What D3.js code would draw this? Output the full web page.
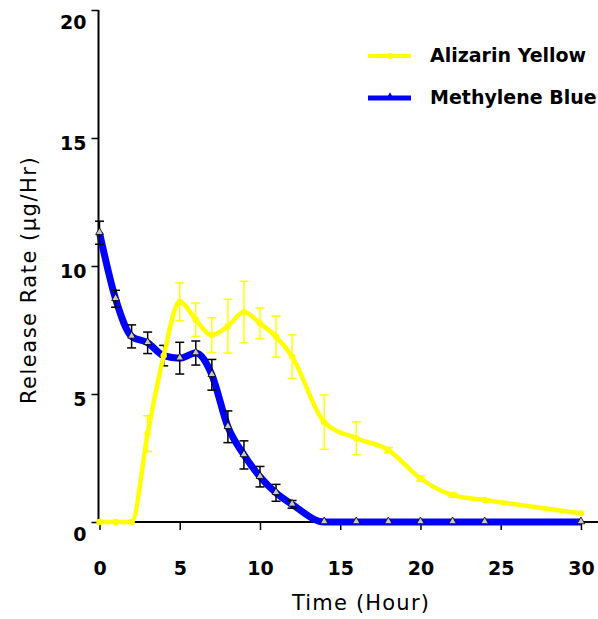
<!DOCTYPE html>
<html>
<head>
<meta charset="utf-8">
<script src="https://cdn.jsdelivr.net/npm/d3@7"></script>
<style>
  html, body { margin: 0; padding: 0; background: #fff; }
  svg { display: block; }
</style>
</head>
<body>
<svg id="chart" width="598" height="619"></svg>
<script>
// ---- data ----
const times = [0, 1, 2, 3, 4, 5, 6, 7, 8, 9, 10, 11, 12, 14, 16, 18, 20, 22, 24, 30];
const blueValues = [11.3, 8.72, 7.25, 7.0, 6.5, 6.4, 6.6, 5.75, 3.72, 2.62, 1.77, 1.14, 0.69, 0, 0, 0, 0, 0, 0, 0];
const blueErrors = [0.45, 0.33, 0.45, 0.42, 0.4, 0.62, 0.47, 0.6, 0.62, 0.55, 0.4, 0.33, 0.15, 0, 0, 0, 0, 0, 0, 0];
const yellowValues = [0, 0, 0, 3.45, 6.5, 8.6, 7.9, 7.3, 7.65, 8.2, 7.76, 7.24, 6.46, 3.9, 3.27, 2.81, 1.7, 1.05, 0.86, 0.34];
const yellowErrors = [0, 0, 0, 0.7, 0, 0.74, 0.65, 0.68, 1.05, 1.2, 0.6, 0.8, 0.85, 1.06, 0.64, 0.1, 0.1, 0.08, 0.05, 0];
const xTicks = [0, 5, 10, 15, 20, 25, 30];
const yTicks = [0, 5, 10, 15, 20];
const seriesNames = ["Alizarin Yellow", "Methylene Blue"];
const xTitle = "Time (Hour)";
const yTitle = "Release Rate (\u03bcg/Hr)";

const blue = times.map((t, i) => ({ t, v: blueValues[i], e: blueErrors[i] }));
const yellow = times.map((t, i) => ({ t, v: yellowValues[i], e: yellowErrors[i] }));

const svg = d3.select("#chart");
const x = d3.scaleLinear().domain([0, 31]).range([99.5, 597]);
const y = d3.scaleLinear().domain([0, 20]).range([522, 10]);

const FONT = "'DejaVu Sans', Verdana, sans-serif";

// ---- axes ----
const gx = svg.append("g").attr("transform", "translate(0,522)")
  .call(d3.axisBottom(x).tickValues(xTicks).tickSize(8).tickFormat(d3.format("d")));
gx.select(".domain").remove();
gx.selectAll(".tick line").attr("stroke", "#000").attr("stroke-width", 1.5);
gx.selectAll(".tick text").attr("y", 46).attr("dy", "0.35em")
  .attr("font-family", FONT).attr("font-size", 19).attr("font-weight", "bold").attr("fill", "#000");

const gy = svg.append("g").attr("transform", "translate(98.5,0)")
  .call(d3.axisLeft(y).tickValues(yTicks).tickSize(7).tickFormat(d3.format("d")));
gy.select(".domain").remove();
gy.selectAll(".tick line").attr("stroke", "#000").attr("stroke-width", 1.5);
gy.selectAll(".tick text").attr("x", -12)
  .attr("dy", d => (d === 0 || d === 20) ? 13 : 6)
  .attr("dominant-baseline", "middle")
  .attr("font-family", FONT).attr("font-size", 19).attr("font-weight", "bold").attr("fill", "#000");

svg.append("line").attr("x1", 98.5).attr("x2", 98.5).attr("y1", 10).attr("y2", 523)
  .attr("stroke", "#000").attr("stroke-width", 2);
svg.append("line").attr("x1", 97.5).attr("x2", 598).attr("y1", 522).attr("y2", 522)
  .attr("stroke", "#000").attr("stroke-width", 2);

// axis titles
svg.append("text").attr("x", 361).attr("y", 604).attr("text-anchor", "middle")
  .attr("dominant-baseline", "middle")
  .attr("font-family", FONT).attr("font-size", 21).attr("letter-spacing", 1.2)
  .attr("fill", "#000").text(xTitle);
svg.append("text").attr("transform", "translate(30,280) rotate(-90)")
  .attr("text-anchor", "middle").attr("dominant-baseline", "middle")
  .attr("font-family", FONT).attr("font-size", 21).attr("letter-spacing", 1.5)
  .attr("fill", "#000").text(yTitle);

// ---- series ----
const line = d3.line().x(d => x(d.t)).y(d => y(d.v)).curve(d3.curveMonotoneX);
const CAP = 4.5;

function errorBars(data, color, width) {
  const g = svg.append("g").attr("stroke", color).attr("stroke-width", width).attr("fill", "none");
  data.filter(d => d.e > 0).forEach(d => {
    const cx = x(d.t), y0 = y(d.v - d.e), y1 = y(d.v + d.e);
    g.append("line").attr("x1", cx).attr("x2", cx).attr("y1", y0).attr("y2", y1);
    g.append("line").attr("x1", cx - CAP).attr("x2", cx + CAP).attr("y1", y0).attr("y2", y0);
    g.append("line").attr("x1", cx - CAP).attr("x2", cx + CAP).attr("y1", y1).attr("y2", y1);
  });
}

const tri = d3.symbol().type(d3.symbolTriangle).size(26);

// Methylene Blue
svg.append("path").datum(blue).attr("d", line)
  .attr("fill", "none").attr("stroke", "#0000ff").attr("stroke-width", 7).attr("stroke-linejoin", "round");
errorBars(blue, "#000", 1.5);
svg.append("g").selectAll("path").data(blue).join("path")
  .attr("d", tri).attr("transform", d => `translate(${x(d.t)},${y(d.v) - 0.5})`)
  .attr("fill", "#c8c8c8").attr("stroke", "#000").attr("stroke-width", 0.8);

// Alizarin Yellow
errorBars(yellow, "#ffff00", 1.5);
svg.append("path").datum(yellow).attr("d", line)
  .attr("fill", "none").attr("stroke", "#ffff00").attr("stroke-width", 4.5).attr("stroke-linejoin", "round");
svg.append("g").selectAll("circle").data(yellow).join("circle")
  .attr("cx", d => x(d.t)).attr("cy", d => y(d.v)).attr("r", 3.2).attr("fill", "#ffff00");

// ---- legend ----
const legend = svg.append("g");
const legendRows = [
  { name: seriesNames[0], color: "#ffff00", y: 56, w: 4 },
  { name: seriesNames[1], color: "#0000ff", y: 98, w: 5 }
];
legendRows.forEach((r, i) => {
  legend.append("line").attr("x1", 368).attr("x2", 411).attr("y1", r.y).attr("y2", r.y)
    .attr("stroke", r.color).attr("stroke-width", r.w);
  if (i === 0) {
    legend.append("circle").attr("cx", 390).attr("cy", r.y).attr("r", 3).attr("fill", r.color);
  } else {
    legend.append("path").attr("d", d3.symbol().type(d3.symbolTriangle).size(30))
      .attr("transform", `translate(390,${r.y - 1})`).attr("fill", r.color);
  }
  legend.append("text").attr("x", 430).attr("y", r.y).attr("dominant-baseline", "middle")
    .attr("font-family", FONT).attr("font-size", 19).attr("font-weight", "bold")
    .attr("fill", "#000").text(r.name);
});
</script>
</body>
</html>
